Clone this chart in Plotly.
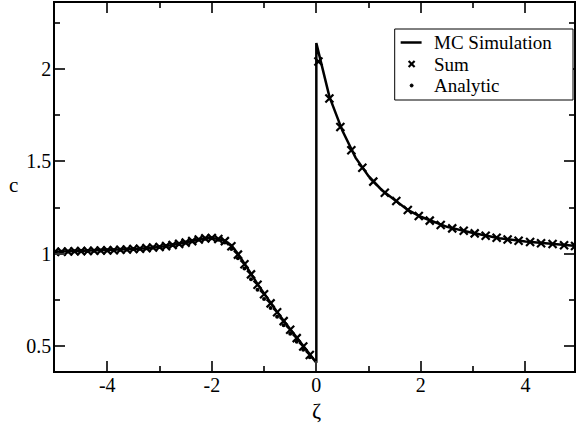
import plotly.graph_objects as go

# ---------------- data ----------------
# MC simulation (solid line)
mc_x = [-5.0, -4.75, -4.5, -4.25, -4.0, -3.75, -3.5, -3.25, -3.0, -2.75, -2.5, -2.25,
        -2.125, -2.0, -1.875, -1.75, -1.625, -1.5, -1.375, -1.25, -1.125, -1.0, -0.875,
        -0.75, -0.625, -0.5, -0.375, -0.25, -0.125, 0.0,
        0.0, 0.25, 0.5, 0.75, 1.0, 1.25, 1.5, 1.75, 2.0, 2.5, 3.0, 3.5, 4.0, 4.5, 5.0]
mc_c = [1.010, 1.012, 1.014, 1.016, 1.018, 1.021, 1.025, 1.030, 1.036, 1.047, 1.060, 1.076,
        1.083, 1.085, 1.080, 1.070, 1.045, 1.000, 0.948, 0.892, 0.835, 0.783, 0.734,
        0.685, 0.637, 0.590, 0.545, 0.500, 0.455, 0.410,
        2.140, 1.850, 1.665, 1.520, 1.420, 1.345, 1.290, 1.237, 1.200, 1.145, 1.112, 1.084,
        1.066, 1.052, 1.041]

# Sum (crosses)
sum_x = [-5.0, -4.875, -4.75, -4.625, -4.5, -4.375, -4.25, -4.125, -4.0, -3.875, -3.75,
         -3.625, -3.5, -3.375, -3.25, -3.125, -3.0, -2.875, -2.75, -2.625, -2.5, -2.375,
         -2.25, -2.125, -2.0, -1.875, -1.75, -1.625, -1.5, -1.375, -1.25, -1.125, -1.0,
         -0.875, -0.75, -0.625, -0.5, -0.375, -0.25, -0.125,
         0.04, 0.25, 0.46, 0.67, 0.88, 1.09, 1.31, 1.53, 1.75, 1.96, 2.17, 2.38, 2.6, 2.82,
         3.03, 3.24, 3.45, 3.66, 3.87, 4.09, 4.3, 4.52, 4.74, 4.95]
sum_c = [1.010, 1.011, 1.012, 1.013, 1.014, 1.015, 1.016, 1.017, 1.018, 1.019, 1.021,
         1.023, 1.025, 1.027, 1.030, 1.033, 1.036, 1.041, 1.047, 1.053, 1.060, 1.068,
         1.077, 1.083, 1.085, 1.080, 1.068, 1.040, 0.995, 0.943, 0.888, 0.832, 0.780,
         0.731, 0.683, 0.635, 0.588, 0.543, 0.498, 0.452,
         2.040, 1.840, 1.686, 1.560, 1.465, 1.390, 1.330, 1.285, 1.237, 1.204, 1.179, 1.155,
         1.137, 1.124, 1.110, 1.097, 1.086, 1.077, 1.070, 1.063, 1.057, 1.052, 1.046, 1.042]

# Analytic (dots)
an_x = [-5.0, -4.875, -4.75, -4.625, -4.5, -4.375, -4.25, -4.125, -4.0, -3.875, -3.75,
        -3.625, -3.5, -3.375, -3.25, -3.125, -3.0, -2.875, -2.75, -2.625, -2.5, -2.375,
        -2.25, -2.125, -2.0, -1.875, -1.75, -1.625, -1.5, -1.375, -1.25, -1.125, -1.0,
        -0.875, -0.75, -0.625, -0.5, -0.375, -0.25, -0.125]
an_c = [1.010, 1.011, 1.012, 1.013, 1.014, 1.015, 1.016, 1.017, 1.018, 1.019, 1.021,
        1.023, 1.025, 1.027, 1.030, 1.033, 1.036, 1.041, 1.047, 1.053, 1.060, 1.067,
        1.075, 1.081, 1.083, 1.076, 1.060, 1.025, 0.975, 0.920, 0.862, 0.805, 0.755,
        0.706, 0.658, 0.612, 0.566, 0.524, 0.480, 0.440]

x_ticks = [-4, -2, 0, 2, 4]
x_ticklabels = ["-4", "-2", "0", "2", "4"]
y_ticks = [0.5, 1, 1.5, 2]
y_ticklabels = ["0.5", "1", "1.5", "2"]
legend_labels = ["MC Simulation", "Sum", "Analytic"]

FONT = "Liberation Serif"

# plot-area geometry in pixels (for placing the hand-drawn legend)
L, R, T, B = 55, 576, 3, 371
W, H = 577, 426


def px(xp):
    return (xp - L) / (R - L)


def py(yp):
    return (B - yp) / (B - T)


fig = go.Figure()
fig.add_trace(go.Scatter(x=mc_x, y=mc_c, mode="lines", name=legend_labels[0],
                         line=dict(color="black", width=2.5)))
fig.add_trace(go.Scatter(x=sum_x, y=sum_c, mode="markers", name=legend_labels[1],
                         marker=dict(symbol="x-thin", size=8, color="black",
                                     line=dict(color="black", width=2.2))))
fig.add_trace(go.Scatter(x=an_x, y=an_c, mode="markers", name=legend_labels[2],
                         marker=dict(symbol="circle", size=4, color="black")))

axis_common = dict(
    showline=True, linecolor="black", linewidth=1.5, mirror="allticks",
    ticks="inside", ticklen=10, tickwidth=1.5, tickcolor="#333333",
    showgrid=False, zeroline=False,
    tickfont=dict(family=FONT, size=20, color="black"),
)

fig.update_xaxes(range=[-5, 4.93], tickvals=x_ticks, ticktext=x_ticklabels,
                 ticklabelstandoff=-5,
                 minor=dict(dtick=1, tick0=-5, ticks="inside", ticklen=5,
                            tickwidth=1.5, tickcolor="#333333"),
                 **axis_common)
fig.update_yaxes(range=[0.365, 2.357], tickvals=y_ticks, ticktext=y_ticklabels,
                 ticklabelstandoff=-2,
                 minor=dict(dtick=0.25, tick0=0.25, ticks="inside", ticklen=5,
                            tickwidth=1.5, tickcolor="#333333"),
                 **axis_common)

fig.add_annotation(text="c", xref="paper", yref="paper", x=px(13), y=py(185),
                   showarrow=False, font=dict(family=FONT, size=21, color="black"),
                   xanchor="center", yanchor="middle")
fig.add_annotation(text="ζ", xref="x", yref="paper", x=0, y=py(410),
                   showarrow=False, font=dict(family=FONT, size=22, color="black"),
                   xanchor="center", yanchor="middle")

# ---- legend box (drawn to match the compact original) ----
shapes = [
    dict(type="rect", xref="paper", yref="paper", x0=px(396), x1=px(575),
         y0=py(100), y1=py(29), line=dict(color="black", width=1),
         fillcolor="white", layer="above"),
    dict(type="line", xref="paper", yref="paper", x0=px(402), x1=px(423),
         y0=py(42.5), y1=py(42.5), line=dict(color="black", width=2.5), layer="above"),
    dict(type="line", xref="paper", yref="paper", x0=px(410), x1=px(416),
         y0=py(61), y1=py(67), line=dict(color="black", width=2.2), layer="above"),
    dict(type="line", xref="paper", yref="paper", x0=px(410), x1=px(416),
         y0=py(67), y1=py(61), line=dict(color="black", width=2.2), layer="above"),
    dict(type="circle", xref="paper", yref="paper", x0=px(411.5), x1=px(414.5),
         y0=py(87), y1=py(84), line=dict(color="black", width=1),
         fillcolor="black", layer="above"),
]
for lbl, yy in zip(legend_labels, [42.5, 64, 85.5]):
    fig.add_annotation(text=lbl, xref="paper", yref="paper", x=px(434), y=py(yy),
                       showarrow=False, xanchor="left", yanchor="middle",
                       borderpad=0,
                       font=dict(family=FONT, size=19, color="black"))

fig.update_layout(
    width=W, height=H,
    margin=dict(l=L, r=W - R, t=T, b=H - B),
    paper_bgcolor="white", plot_bgcolor="white",
    showlegend=False,
    shapes=shapes,
)

fig.write_html("out.html", config={"displayModeBar": False},
               post_script="document.body.style.margin='0';")
